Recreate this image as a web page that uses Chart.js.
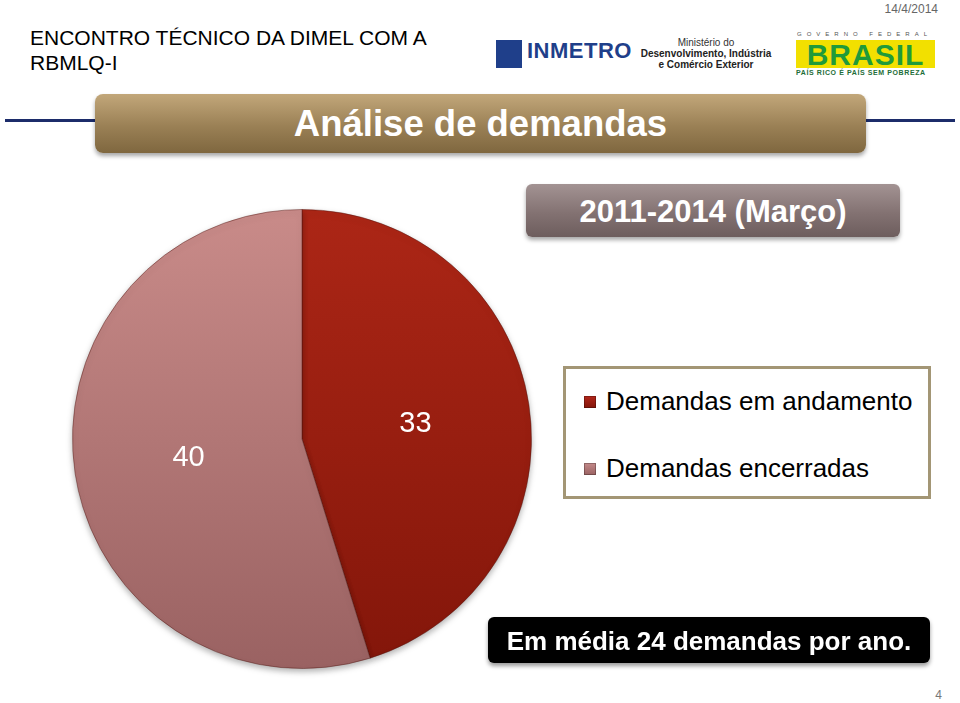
<!DOCTYPE html>
<html lang="pt-BR">
<head>
<meta charset="utf-8">
<title>Análise de demandas</title>
<script src="https://cdn.jsdelivr.net/npm/chart.js@4"></script>
<style>
  html, body { margin: 0; padding: 0; }
  body { width: 960px; height: 703px; position: relative; overflow: hidden; background: #fff; font-family: "Liberation Sans", Arial, sans-serif; }
  .abs { position: absolute; }
  .header-text { left: 30px; top: 25px; font-size: 21px; line-height: 25px; color: #000; }
  .date { right: 22px; top: 2px; font-size: 12px; color: #666; }
  .page-num { right: 18px; top: 688px; font-size: 12px; color: #777; }
  .navy { height: 3px; background: #1c2c6a; top: 119px; }
  .title-bar { left: 95px; top: 94px; width: 771px; height: 59px; border-radius: 8px;
    background: linear-gradient(#c2a77a, #9a8055 55%, #7f673f); box-shadow: 0 3px 4px rgba(0,0,0,0.35);
    color: #fff; font-weight: bold; font-size: 36.5px; text-align: center; line-height: 59px; }
  .sub-bar { left: 526px; top: 184px; width: 374px; height: 53px; border-radius: 6px;
    background: linear-gradient(#a39393, #837272 55%, #6d5d5d); box-shadow: 0 3px 4px rgba(0,0,0,0.35);
    color: #fff; font-weight: bold; font-size: 31px; text-align: center; line-height: 55px; }
  .legend-box { left: 563px; top: 366px; width: 362px; height: 127px; border: 3px solid #a39675; background: #fff; }
  .legend-item { position: absolute; left: 18px; font-size: 26px; line-height: 30px; color: #000; white-space: nowrap; }
  .legend-item span.sw { display: inline-block; width: 12px; height: 12px; margin-right: 10px; vertical-align: 2px;
    box-shadow: inset 0 0 0 1px rgba(0,0,0,0.25); }
  .bottom-bar { left: 488px; top: 617px; width: 442px; height: 46px; border-radius: 6px; background: #000;
    box-shadow: 0 3px 4px rgba(0,0,0,0.4); color: #fff; font-weight: bold; font-size: 26px; text-align: center; line-height: 48px; }
  #pie-wrap { left: 62px; top: 199px; width: 480px; height: 480px; }
  .inmetro-icon { left: 496px; top: 40px; width: 26px; height: 28px; background: #1f3f8a; }
  .inmetro { left: 527px; top: 38px; font-size: 22px; font-weight: bold; color: #1f3f8a; letter-spacing: 0.5px; }
  .mdic { left: 636px; top: 37px; width: 140px; text-align: center; font-size: 10px; line-height: 11px; color: #333; }
  .mdic b { color: #222; }
  .gov { left: 797px; top: 31px; font-size: 6px; letter-spacing: 5px; color: #555; white-space: nowrap; }
  .brasil { left: 796px; top: 40px; width: 139px; height: 28px; background: #f2e000; color: #1f9a3a;
    font-weight: bold; font-size: 30px; line-height: 29px; text-align: center; letter-spacing: 1px; }
  .brasil-sub { left: 796px; top: 69px; width: 140px; font-size: 7px; letter-spacing: 0.6px; color: #1e6e3a; font-weight: bold; white-space: nowrap; }
</style>
</head>
<body>
  <div class="abs header-text">ENCONTRO TÉCNICO DA DIMEL COM A<br>RBMLQ-I</div>
  <div class="abs date">14/4/2014</div>

  <div class="abs inmetro-icon"></div>
  <div class="abs inmetro">INMETRO</div>
  <div class="abs mdic">Ministério do<br><b>Desenvolvimento, Indústria<br>e Comércio Exterior</b></div>
  <div class="abs gov">GOVERNO FEDERAL</div>
  <div class="abs brasil">BRASIL</div>
  <div class="abs brasil-sub">PAÍS RICO É PAÍS SEM POBREZA</div>

  <div class="abs navy" style="left:5px;width:92px;"></div>
  <div class="abs navy" style="left:864px;width:91px;"></div>
  <div class="abs title-bar">Análise de demandas</div>
  <div class="abs sub-bar">2011-2014 (Março)</div>

  <div class="abs" id="pie-wrap"><canvas id="pie"></canvas></div>

  <div class="abs legend-box" id="legend"></div>

  <div class="abs bottom-bar">Em média 24 demandas por ano.</div>
  <div class="abs page-num">4</div>

<script>
// chart data
const labels = ['Demandas em andamento', 'Demandas encerradas'];
const values = [33, 40];

// gradient stops for each slice (top, bottom)
const sliceTop = ['#ac2616', '#c98b89'];
const sliceBottom = ['#83160a', '#9a6262'];
const swatchColors = ['#b3261a', '#c48a8a'];

/**
 * build a vertical gradient for a slice
 * @param {object} context the scriptable context
 */
const sliceGradient = context => {
  const { chart, dataIndex } = context;
  const area = chart.chartArea;
  if (!area) return sliceTop[dataIndex];
  const g = chart.ctx.createLinearGradient(0, area.top, 0, area.bottom);
  g.addColorStop(0, sliceTop[dataIndex]);
  g.addColorStop(1, sliceBottom[dataIndex]);
  return g;
};

// draws the values inside the slices
const valueLabels = {
  id: 'valueLabels',
  afterDatasetsDraw(chart) {
    const { ctx } = chart;
    const meta = chart.getDatasetMeta(0);
    ctx.save();
    ctx.fillStyle = '#fff';
    ctx.font = '29px "Liberation Sans", Arial, sans-serif';
    ctx.textAlign = 'center';
    ctx.textBaseline = 'middle';
    meta.data.forEach((arc, i) => {
      const pos = arc.tooltipPosition();
      ctx.fillText(values[i], pos.x, pos.y + 2);
    });
    ctx.restore();
  }
};

// soft shadow under the pie
const pieShadow = {
  id: 'pieShadow',
  beforeDatasetsDraw(chart) {
    const { ctx } = chart;
    ctx.save();
    ctx.shadowColor = 'rgba(0,0,0,0.3)';
    ctx.shadowBlur = 6;
    ctx.shadowOffsetY = 3;
  },
  afterDatasetsDraw(chart) {
    chart.ctx.restore();
  }
};

/**
 * render the html legend from the labels
 */
const renderLegend = () => {
  const box = document.getElementById('legend');
  labels.forEach((label, i) => {
    const item = document.createElement('div');
    item.className = 'legend-item';
    item.style.top = (i === 0 ? 17 : 84) + 'px';
    const sw = document.createElement('span');
    sw.className = 'sw';
    sw.style.background = `linear-gradient(${swatchColors[i]}, ${sliceBottom[i]})`;
    item.appendChild(sw);
    item.appendChild(document.createTextNode(label));
    box.appendChild(item);
  });
};

const chart = new Chart(document.getElementById('pie'), {
  type: 'pie',
  data: {
    labels,
    datasets: [{
      data: values,
      backgroundColor: sliceGradient,
      borderColor: 'rgba(80,20,15,0.45)',
      borderWidth: 1,
      hoverOffset: 0
    }]
  },
  options: {
    responsive: true,
    maintainAspectRatio: false,
    animation: false,
    layout: { padding: 10 },
    plugins: {
      legend: { display: false },
      tooltip: { enabled: false }
    }
  },
  plugins: [pieShadow, valueLabels]
});

renderLegend();
</script>
</body>
</html>
